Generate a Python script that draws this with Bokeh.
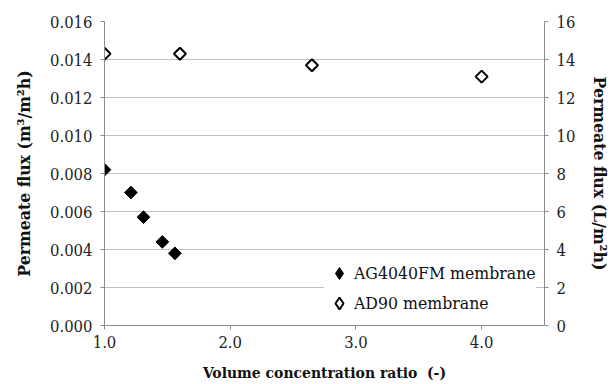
import math
from bokeh.plotting import figure
from bokeh.models import Range1d, LinearAxis, FixedTicker, Legend, LegendItem, NumeralTickFormatter
from bokeh.embed import file_html
from bokeh.resources import INLINE

# Data
ag_vcr = [1.0, 1.21, 1.31, 1.46, 1.56]
ag_flux = [0.0082, 0.0070, 0.0057, 0.0044, 0.0038]
ad_vcr = [1.0, 1.60, 2.65, 4.0]
ad_flux = [0.0143, 0.0143, 0.0137, 0.0131]
x_ticks = [1.0, 2.0, 3.0, 4.0]
y_ticks = [0.000, 0.002, 0.004, 0.006, 0.008, 0.010, 0.012, 0.014, 0.016]
y2_ticks = [0, 2, 4, 6, 8, 10, 12, 14, 16]
ag_label = "AG4040FM membrane"
ad_label = "AD90 membrane"
x_title = "Volume concentration ratio\u00a0 (-)"
y_title = "Permeate flux (m³/m²h)"
y2_title = "Permeate flux (L/m²h)"

FONT = "DejaVu Serif Condensed"
AX = "#8c8c8c"
GRID = "#c0c0c0"

p = figure(width=613, height=384, output_backend="svg", toolbar_location=None,
           x_range=Range1d(1.0, 4.5), y_range=Range1d(0.0, 0.016),
           min_border_left=104, min_border_right=66, min_border_top=21, min_border_bottom=59)
p.outline_line_color = None
p.xgrid.visible = False
p.ygrid.grid_line_color = GRID
p.ygrid.grid_line_width = 1
p.ygrid.ticker = FixedTicker(ticks=y_ticks)

p.extra_y_ranges = {"lph": Range1d(0, 16)}

def style_axis(ax):
    ax.axis_line_color = AX
    ax.major_tick_line_color = AX
    ax.major_tick_out = 4
    ax.major_tick_in = 0
    ax.minor_tick_line_color = None
    ax.major_label_text_font = FONT
    ax.major_label_text_font_size = "16.5px"
    ax.major_label_text_color = "#222222"
    ax.axis_label_text_font = FONT
    ax.axis_label_text_font_style = "bold"
    ax.axis_label_text_font_size = "17.5px"
    ax.axis_label_text_color = "#111111"

xa = p.xaxis[0]
style_axis(xa)
xa.ticker = FixedTicker(ticks=x_ticks)
xa.formatter = NumeralTickFormatter(format="0.0")
xa.axis_label = x_title
xa.axis_label_text_font_size = "15.5px"
xa.major_label_standoff = 6
xa.axis_label_standoff = 12

ya = p.yaxis[0]
style_axis(ya)
ya.ticker = FixedTicker(ticks=y_ticks)
ya.formatter = NumeralTickFormatter(format="0.000")
ya.axis_label = y_title
ya.major_label_standoff = 8
ya.axis_label_standoff = 13

ra = LinearAxis(y_range_name="lph", ticker=FixedTicker(ticks=y2_ticks))
style_axis(ra)
ra.axis_label = y2_title
ra.major_label_standoff = 8
ra.axis_label_standoff = 12
p.add_layout(ra, "right")

r1 = p.scatter(ag_vcr, ag_flux, marker="square", angle=math.pi / 4, size=9,
               fill_color="black", line_color="black", line_width=1)
r2 = p.scatter(ad_vcr, ad_flux, marker="square", angle=math.pi / 4, size=8.5,
               fill_color="white", line_color="black", line_width=2)
# legend-only glyphs (hidden), so the legend shows diamond symbols
l1 = p.scatter(ag_vcr, ag_flux, marker="diamond", size=12,
               fill_color="black", line_color="black", line_width=1, visible=False)
l2 = p.scatter(ad_vcr, ad_flux, marker="diamond", size=11,
               fill_color="white", line_color="black", line_width=2, visible=False)

legend = Legend(items=[LegendItem(label=ag_label, renderers=[l1]),
                       LegendItem(label=ad_label, renderers=[l2])],
                location=(220, 7))
legend.label_text_font = FONT
legend.label_text_font_size = "17.5px"
legend.label_text_color = "#111111"
legend.border_line_color = None
legend.background_fill_color = "white"
legend.background_fill_alpha = 1.0
legend.padding = 3
legend.spacing = 0
legend.glyph_width = 30
legend.glyph_height = 30
legend.label_height = 30
legend.label_standoff = -2
legend.margin = 0
p.add_layout(legend, "center")

open("out.html", "w").write(file_html(p, INLINE))
